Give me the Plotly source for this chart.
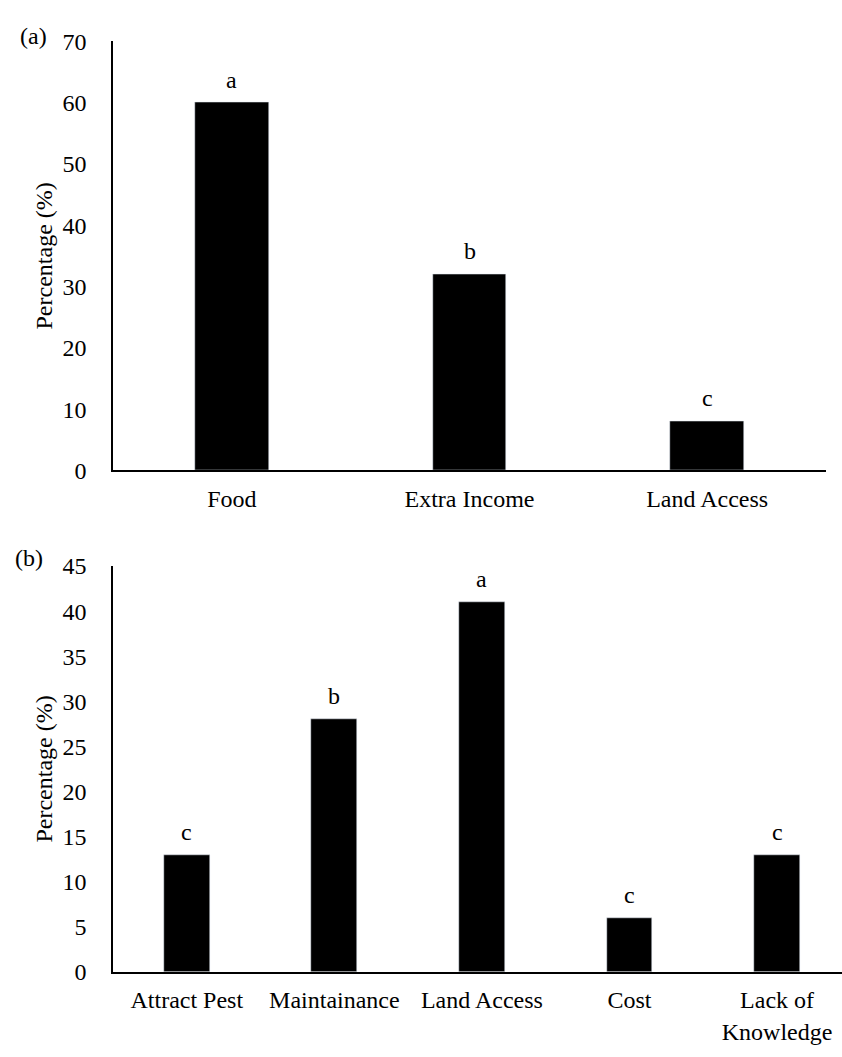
import plotly.graph_objects as go

# Panel (a)
cats_a = ["Food", "Extra Income", "Land Access"]
vals_a = [60, 32, 8]
letters_a = ["a", "b", "c"]

# Panel (b)
cats_b = ["Attract Pest", "Maintainance", "Land Access", "Cost", "Lack of<br>Knowledge"]
vals_b = [13, 28, 41, 6, 13]
letters_b = ["c", "b", "a", "c", "c"]

W, H = 842, 1057
FONT = "Liberation Serif"

fig = go.Figure()
fig.add_trace(go.Bar(x=cats_a, y=vals_a, marker_color="black", width=0.31,
                     xaxis="x", yaxis="y", showlegend=False))
fig.add_trace(go.Bar(x=cats_b, y=vals_b, marker_color="black", width=0.31,
                     xaxis="x2", yaxis="y2", showlegend=False))

annotations = []
for c, v, t in zip(cats_a, vals_a, letters_a):
    annotations.append(dict(x=c, y=v, xref="x", yref="y", text=t, showarrow=False,
                            yanchor="middle", yshift=23, font=dict(size=24, color="black", family=FONT)))
for c, v, t in zip(cats_b, vals_b, letters_b):
    annotations.append(dict(x=c, y=v, xref="x2", yref="y2", text=t, showarrow=False,
                            yanchor="middle", yshift=23, font=dict(size=24, color="black", family=FONT)))
annotations.append(dict(x=33 / W, y=1 - 24 / H, xref="paper", yref="paper", text="(a)",
                        showarrow=False, xanchor="center", yanchor="middle",
                        font=dict(size=24, color="black", family=FONT)))
annotations.append(dict(x=29 / W, y=1 - 559 / H, xref="paper", yref="paper", text="(b)",
                        showarrow=False, xanchor="center", yanchor="middle",
                        font=dict(size=24, color="black", family=FONT)))

xcommon = dict(showgrid=False, zeroline=False, showline=True, linecolor="black", linewidth=1.5,
               ticks="", tickfont=dict(size=24, color="black", family=FONT), ticklabelstandoff=6,
               fixedrange=True)
ycommon = dict(showgrid=False, zeroline=False, showline=True, linecolor="black", linewidth=1.5,
               ticks="", tickfont=dict(size=24, color="black", family=FONT), ticklabelstandoff=20,
               fixedrange=True,
               title=dict(text="Percentage (%)", font=dict(size=24, color="black", family=FONT),
                          standoff=3))

fig.update_layout(
    width=W, height=H,
    margin=dict(l=0, r=0, t=0, b=0),
    paper_bgcolor="white", plot_bgcolor="white",
    font=dict(family=FONT, color="black"),
    bargap=0,
    xaxis=dict(domain=[113 / W, 826 / W], anchor="y", range=[-0.5, 2.5], **xcommon),
    yaxis=dict(domain=[1 - 469 / H, 1 - 29 / H], anchor="x", range=[0, 70], dtick=10, **ycommon),
    xaxis2=dict(domain=[113 / W, 1.0], anchor="y2", range=[-0.5, 4.44], **xcommon),
    yaxis2=dict(domain=[1 - 983 / H, 1 - 567 / H], anchor="x2", range=[0, 45], dtick=5, **ycommon),
    annotations=annotations,
)

fig.write_html("out.html", config={"displayModeBar": False},
               post_script="document.body.style.margin='0';document.body.style.overflow='hidden';")
